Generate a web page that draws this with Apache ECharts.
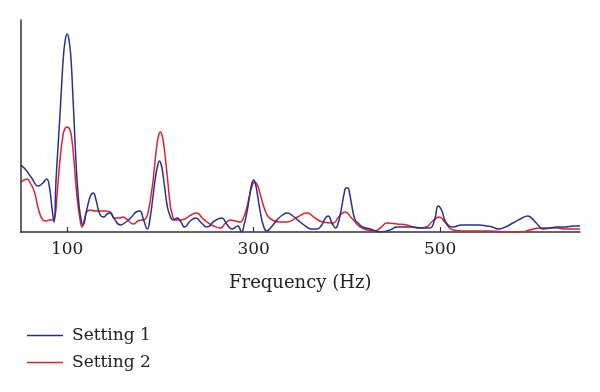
<!DOCTYPE html>
<html>
<head>
<meta charset="utf-8">
<script src="https://cdn.jsdelivr.net/npm/echarts@6/dist/echarts.min.js"></script>
<style>
html,body{margin:0;padding:0;background:#fff;}
#chart{width:600px;height:392px;}
</style>
</head>
<body>
<div id="chart"></div>
<script>
const xTicks = [100, 300, 500];
const seriesNames = ['Setting 1', 'Setting 2'];

const setting1Freq = [50,55,62,69,74,78,81,84,86,88,90,92,94,96,98,100,102,104,106,108,110,112,114,117,121,125,128,131,135,139,143,146,150,157,163,169,174,178,182,186,189,192,194,196,197,199,201,203,205,207,210,214,218,222,226,232,238,244,250,258,266,271,277,283,287,290,292,294,296,298,300,302,304,306,308,310,314,319,325,331,336,342,350,357,362,368,373,377,380,384,388,391,393,395,397,399,401,403,405,407,409,412,417,425,436,446,454,463,471,480,489,494,498,502,506,514,523,532,542,550,556,562,570,578,586,594,600,606,610,618,625,634,643,650];
const setting1Amp  = [67,63,54,46,49,53,45,22,10,50,82,112,145,175,192,198,192,175,140,100,62,35,18,7,22,36,39,32,18,15,18,19,14,7,10,15,20,21,12,3,14,35,50,62,66,71,67,56,42,28,17,12,14,10,5,11,14,9,5,11,14,8,3,6,0,8,16,26,38,48,52,48,38,26,16,8,1,5,12,17,19,16,10,5,3,3,7,14,16,9,4,10,18,28,38,44,44,38,28,18,12,9,5,3,0,2,5,5,5,4,4,12,26,21,10,5,7,7,7,6,5,3,5,9,13,16,12,6,3,4,5,5,6,6];

const setting2Freq = [50,54,57,61,65,69,74,78,81,84,87,89,91,93,95,97,100,103,105,107,109,111,113,116,119,121,125,130,135,140,146,151,156,160,165,171,176,180,184,188,190,192,194,196,198,200,202,204,206,208,210,212,216,221,226,233,239,245,250,257,264,270,275,280,286,289,292,295,298,301,304,307,310,313,316,320,327,336,347,357,366,374,385,392,398,405,414,422,430,437,443,454,464,471,478,485,492,499,505,510,514,525,540,555,570,586,596,607,616,625,634,642,650];
const setting2Amp  = [50,52,53,48,40,24,12,11,12,12,16,35,58,78,93,102,105,102,93,75,52,32,18,5,14,20,22,21,21,21,20,14,14,15,12,8,11,12,13,25,37,50,68,85,96,100,96,85,68,50,32,20,12,12,13,17,19,14,10,6,4,9,12,11,10,14,22,34,45,50,47,38,28,20,15,12,10,10,15,19,14,10,9,16,20,14,5,2,1,5,9,8,7,5,4,5,11,15,10,4,2,1,1,1,0,0,2,4,4,4,3,3,3];

const toPairs = (f, a) => f.map((v, i) => [v, a[i]]);

const chart = echarts.init(document.getElementById('chart'), null, {renderer: 'canvas'});
const FONT = 'DejaVu Serif';
chart.setOption({
  animation: false,
  backgroundColor: '#ffffff',
  grid: {left: 20.5, right: 20, top: 20, bottom: 160, containLabel: false},
  legend: {
    orient: 'vertical',
    left: 22,
    top: 322,
    itemWidth: 36,
    itemHeight: 14,
    itemGap: 10,
    icon: 'path://M0,7 L36,7 L36,8.5 L0,8.5 Z',
    textStyle: {fontFamily: FONT, fontSize: 17, color: '#222', padding: [0, 0, 0, 4]},
    data: seriesNames
  },
  xAxis: {
    type: 'value',
    min: 50,
    max: 650,
    name: 'Frequency (Hz)',
    nameLocation: 'middle',
    nameGap: 42,
    nameTextStyle: {fontFamily: FONT, fontSize: 18, color: '#222'},
    axisLine: {show: true, lineStyle: {color: '#333', width: 1.5}},
    axisTick: {show: true, inside: true, length: 5, customValues: xTicks, lineStyle: {color: '#333', width: 1.2}},
    axisLabel: {show: true, margin: 9, customValues: xTicks, fontFamily: FONT, fontSize: 17, color: '#222'},
    splitLine: {show: false}
  },
  yAxis: {
    type: 'value',
    min: 0,
    max: 212,
    axisLine: {show: true, lineStyle: {color: '#333', width: 1.5}},
    axisTick: {show: false},
    axisLabel: {show: false},
    splitLine: {show: false}
  },
  series: [
    {
      name: seriesNames[0],
      type: 'line',
      data: toPairs(setting1Freq, setting1Amp),
      smooth: 0.5,
      symbol: 'none',
      color: '#2a2f8f',
      lineStyle: {color: '#2a2f8f', width: 1.5},
      z: 3
    },
    {
      name: seriesNames[1],
      type: 'line',
      data: toPairs(setting2Freq, setting2Amp),
      smooth: 0.5,
      symbol: 'none',
      color: '#e2202a',
      lineStyle: {color: '#e2202a', width: 1.5},
      z: 2
    }
  ]
});
</script>
</body>
</html>
